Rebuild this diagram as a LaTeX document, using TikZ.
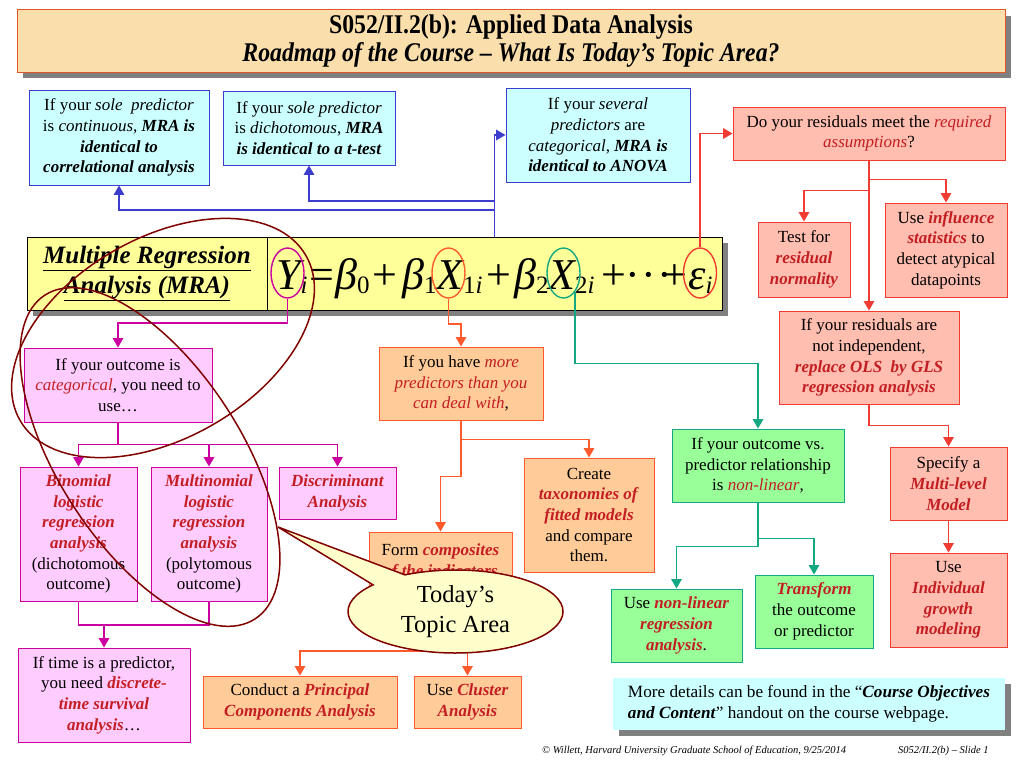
\documentclass[tikz,border=0pt]{standalone}
\usepackage{fontspec}
\setmainfont{Liberation Serif}
\usepackage{graphicx}
\usepackage{tikz}
\usetikzlibrary{shapes,arrows,shadows}

\definecolor{titlefill}{RGB}{250,222,172}
\definecolor{titleline}{RGB}{225,85,40}
\definecolor{bluefill}{RGB}{204,255,255}
\definecolor{blueline}{RGB}{60,60,205}
\definecolor{eqfill}{RGB}{255,255,153}
\definecolor{magfill}{RGB}{255,204,255}
\definecolor{magline}{RGB}{204,0,160}
\definecolor{orfill}{RGB}{255,204,153}
\definecolor{orline}{RGB}{255,90,45}
\definecolor{redfill}{RGB}{255,190,175}
\definecolor{redline}{RGB}{240,60,50}
\definecolor{grfill}{RGB}{153,255,153}
\definecolor{grline}{RGB}{20,168,130}
\definecolor{hot}{RGB}{195,30,35}
\definecolor{maroon}{RGB}{128,0,0}
\definecolor{topicfill}{RGB}{255,255,204}

\newcommand\redit[1]{\textcolor{hot}{\textit{#1}}}
\newcommand\redbf[1]{\textcolor{hot}{\textbf{\textit{#1}}}}
\newcommand\bfit[1]{\textbf{\textit{#1}}}
\newcommand\eqsub[1]{\raisebox{-4pt}{\fontsize{25}{25}\selectfont #1}}

\tikzset{
  cbox/.style={rectangle, draw, line width=1pt, align=center, inner sep=1pt,
    font=\fontsize{17}{20.7}\selectfont},
  sz/.style 2 args={minimum width=#1, minimum height=#2},
  bluebox/.style={cbox, draw=blueline, fill=bluefill},
  magbox/.style={cbox, draw=magline, fill=magfill},
  orbox/.style={cbox, draw=orline, fill=orfill},
  redbox/.style={cbox, draw=redline, fill=redfill},
  grbox/.style={cbox, draw=grline, fill=grfill},
  boxshadow/.style={drop shadow={shadow xshift=6pt, shadow yshift=-6pt, fill=black!50, opacity=1}},
  ring/.style={ellipse, draw=#1, line width=1.4pt, minimum width=33, minimum height=50, inner sep=0pt},
  link/.style={draw=#1, line width=1.6pt, -triangle 60},
  eqterm/.style={anchor=base west, inner sep=0pt, font=\fontsize{44}{44}\selectfont\itshape},
  foot/.style={anchor=base west, inner sep=0pt, font=\fontsize{10.5}{12}\selectfont\itshape},
}

\begin{document}
\begin{tikzpicture}[x=1pt,y=1pt]
\useasboundingbox (0,0) rectangle (1024,-768);
\fill[white] (0,0) rectangle (1024,-768);%page

%title
\node[cbox, draw=titleline, fill=titlefill, boxshadow, sz={988}{62}, font=\fontsize{27}{28}\selectfont] (title) at (511,-41)
  {\scalebox{0.88}[1]{\textbf{S052/II.2(b): Applied Data Analysis}}\\
   \scalebox{0.88}[1]{\bfit{Roadmap of the Course – What Is Today’s Topic Area?}}};

%blue boxes
\node[bluebox, sz={180}{95}] (cont) at (119,-137.5) {If your \textit{sole\ \ predictor}\\ is \textit{continuous}, \bfit{MRA is}\\ \bfit{identical to}\\ \bfit{correlational analysis}};
\node[bluebox, sz={172}{74}] (dich) at (309,-128) {If your \textit{sole predictor}\\ is \textit{dichotomous}, \bfit{MRA}\\ \bfit{is identical to a t-test}};
\node[bluebox, sz={184}{94}] (several) at (598,-135) {If your \textit{several}\\ \textit{predictors} are\\ \textit{categorical}, \bfit{MRA is}\\ \bfit{identical to ANOVA}};

%equation box
\node[cbox, draw=black, fill=eqfill, boxshadow, sz={240}{73}, font=\fontsize{25}{30}\selectfont\bfseries\itshape] (mra) at (147,-273.5)
  {\underline{Multiple Regression}\\ \underline{Analysis (MRA)}};
\node[cbox, draw=black, fill=eqfill, boxshadow, sz={455}{73}] (eqr) at (494.5,-273.5) {};

\node[eqterm] (eqY) at (276,-289) {Y\eqsub{i}};
\node[eqterm] (eqEq) at (309,-289) {\upshape =};
\node[eqterm] (eqB0) at (335,-289) {β\eqsub{\upshape 0}};
\node[eqterm] (eqP1) at (372,-289) {\upshape +};
\node[eqterm] (eqB1) at (402,-289) {β\eqsub{\upshape 1}};
\node[eqterm] (eqX1) at (436,-289) {X\eqsub{{\upshape 1}i}};
\node[eqterm] (eqP2) at (486,-289) {\upshape +};
\node[eqterm] (eqB2) at (514,-289) {β\eqsub{\upshape 2}};
\node[eqterm] (eqX2) at (548,-289) {X\eqsub{{\upshape 2}i}};
\node[eqterm] (eqP3) at (601,-289) {\upshape +};
\node[eqterm] (eqDots) at (625,-289) {\upshape ·\kern1.5pt·\kern1.5pt·};
\node[eqterm] (eqP4) at (662,-289) {\upshape +};
\node[eqterm] (eqE) at (688,-289) {ε\eqsub{i}};

\node[ring=magline] (ringY) at (287.5,-273) {};
\node[ring=orline] (ringX1) at (448.5,-273) {};
\node[ring=grline] (ringX2) at (563.5,-273) {};
\node[ring=redline] (ringE) at (700,-273) {};

%red column
\node[redbox, sz={272}{53}] (assump) at (869,-133.5) {Do your residuals meet the \redit{required}\\ \redit{assumptions}?};
\node[redbox, sz={92}{75}] (test) at (804,-259.5) {Test for\\ \redbf{residual}\\ \redbf{normality}};
\node[redbox, sz={122}{94}] (influence) at (946,-250) {Use \redbf{influence}\\ \redbf{statistics} to\\ detect atypical\\ datapoints};
\node[redbox, sz={180}{93}] (resid) at (869,-357.5) {If your residuals are\\ not independent,\\ \redbf{replace OLS\ \ by GLS}\\ \redbf{regression analysis}};
\node[redbox, sz={117}{73}] (specify) at (948.5,-483.5) {Specify a\\ \redbf{Multi-level}\\ \redbf{Model}};
\node[redbox, sz={117}{94}] (indiv) at (948.5,-600) {Use\\ \redbf{Individual}\\ \redbf{growth}\\ \redbf{modeling}};

%green boxes
\node[grbox, sz={172}{73}] (nonlin) at (758,-465.5) {If your outcome vs.\\ predictor relationship\\ is \redit{non-linear},};
\node[grbox, sz={131}{73}] (usenl) at (676.5,-625.5) {Use \redbf{non-linear}\\ \redbf{regression}\\ \redbf{analysis}.};
\node[grbox, sz={118}{73}] (transform) at (814,-611.5) {\redbf{Transform}\\ the outcome\\ or predictor};

%magenta boxes
\node[magbox, sz={188}{74}] (outcome) at (118,-385) {If your outcome is\\ \redit{categorical}, you need to\\ use…};
\node[magbox, sz={117}{134}] (binom) at (78.5,-534) {\redbf{Binomial}\\ \redbf{logistic}\\ \redbf{regression}\\ \redbf{analysis}\\ (dichotomous\\ outcome)};
\node[magbox, sz={116}{134}] (multi) at (209,-534) {\redbf{Multinomial}\\ \redbf{logistic}\\ \redbf{regression}\\ \redbf{analysis}\\ (polytomous\\ outcome)};
\node[magbox, sz={117}{52}] (discr) at (337.5,-493) {\redbf{Discriminant}\\ \redbf{Analysis}};
\node[magbox, sz={172}{94}] (time) at (104,-695) {If time is a predictor,\\ you need \redbf{discrete-}\\ \redbf{time survival}\\ \redbf{analysis}…};

%orange boxes
\node[orbox, sz={164}{73}] (morep) at (461,-383.5) {If you have \redit{more}\\ \redit{predictors than you}\\ \redit{can deal with},};
\node[orbox, sz={130}{114}] (create) at (589,-515) {Create\\ \redbf{taxonomies of}\\ \redbf{fitted models}\\ and compare\\ them.};
\node[orbox, sz={143}{60}] (form) at (440.5,-562) {Form \redbf{composites}\\ \redbf{of the indicators}};
\node[orbox, sz={194}{52}] (conduct) at (300,-702) {Conduct a \redbf{Principal}\\ \redbf{Components Analysis}};
\node[orbox, sz={107}{52}] (cluster) at (467.5,-702) {Use \redbf{Cluster}\\ \redbf{Analysis}};

%info box
\node[cbox, draw=none, fill=bluefill, boxshadow, sz={392}{52}, align=left, font=\fontsize{17.2}{21}\selectfont] (info) at (809,-704)
  {More details can be found in the “\bfit{Course Objectives}\\ \bfit{and Content}” handout on the course webpage.};

%blue links
\coordinate (bj1) at (494.5,-210);
\coordinate (bj2) at (494.5,-201);
\draw[link=blueline] (eqr.north) |- (several.west);
\draw[link=blueline] (bj1) -| (cont.south);
\draw[link=blueline] (bj2) -| (dich.south);

%magenta links
\draw[link=magline] (ringY.south) -- ++(0,-24) -| (outcome.north);
\draw[link=magline] (outcome.south) -- ++(0,-22) -| (binom.north);
\draw[link=magline] (outcome.south) -- ++(0,-22) -| (multi.north);
\draw[link=magline] (outcome.south) -- ++(0,-22) -| (discr.north);
\coordinate (mj) at (104,-625);
\draw[magline, line width=1.6pt] (binom.south) |- (mj);
\draw[magline, line width=1.6pt] (multi.south) |- (mj);
\draw[link=magline] (mj) -- (time.north);

%orange links
\draw[link=orline] (ringX1.south) -- ++(0,-25) -| (morep.north);
\draw[link=orline] (morep.south) -- ++(0,-19) -| (create.north);
\draw[link=orline] (morep.south) -- ++(0,-56) -| (form.north);
\coordinate (oj) at (440.5,-651);
\draw[orline, line width=1.6pt] (form.south) -- (oj);
\draw[link=orline] (oj) -| (conduct.north);
\draw[link=orline] (oj) -| (cluster.north);

%red links
\draw[link=redline] (ringE.north) |- (assump.west);
\draw[link=redline] (assump.south) -- (resid.north);
\draw[link=redline] (assump.south) -- ++(0,-19) -| (influence.north);
\draw[link=redline] (assump.south) -- ++(0,-30) -| (test.north);
\draw[link=redline] (resid.south) -- ++(0,-21) -| (specify.north);
\draw[link=redline] (specify.south) -- (indiv.north);

%green links
\draw[link=grline] (ringX2.-60) -- ++(0,-71) -| (nonlin.north);
\draw[link=grline] (nonlin.south) -- ++(0,-44) -| (usenl.north);
\draw[link=grline] (nonlin.south) -- ++(0,-36) -| (transform.north);

%hand drawn ellipses
\draw[maroon, line width=1.5pt, shift={(163,-338)}, rotate=30] (0,0) ellipse (165pt and 100pt);
\draw[maroon, line width=1.5pt, shift={(150,-457)}, rotate=-57] (0,0) ellipse (193pt and 91pt);

%callout
\coordinate (tip) at (278,-527);
\node[ellipse callout, draw=maroon, line width=1.5pt, fill=topicfill, minimum width=215, minimum height=83, inner sep=0pt,
  callout absolute pointer={(tip)}, callout pointer arc=22, align=center, font=\fontsize{24.5}{30}\selectfont] (topic) at (455.5,-611.5)
  {Today’s\\ Topic Area};

%footer
\node[foot] (credit) at (542,-753) {© Willett, Harvard University Graduate School of Education, 9/25/2014};
\node[foot] (slideno) at (898,-753) {S052/II.2(b) – Slide 1};
\end{tikzpicture}
\end{document}
